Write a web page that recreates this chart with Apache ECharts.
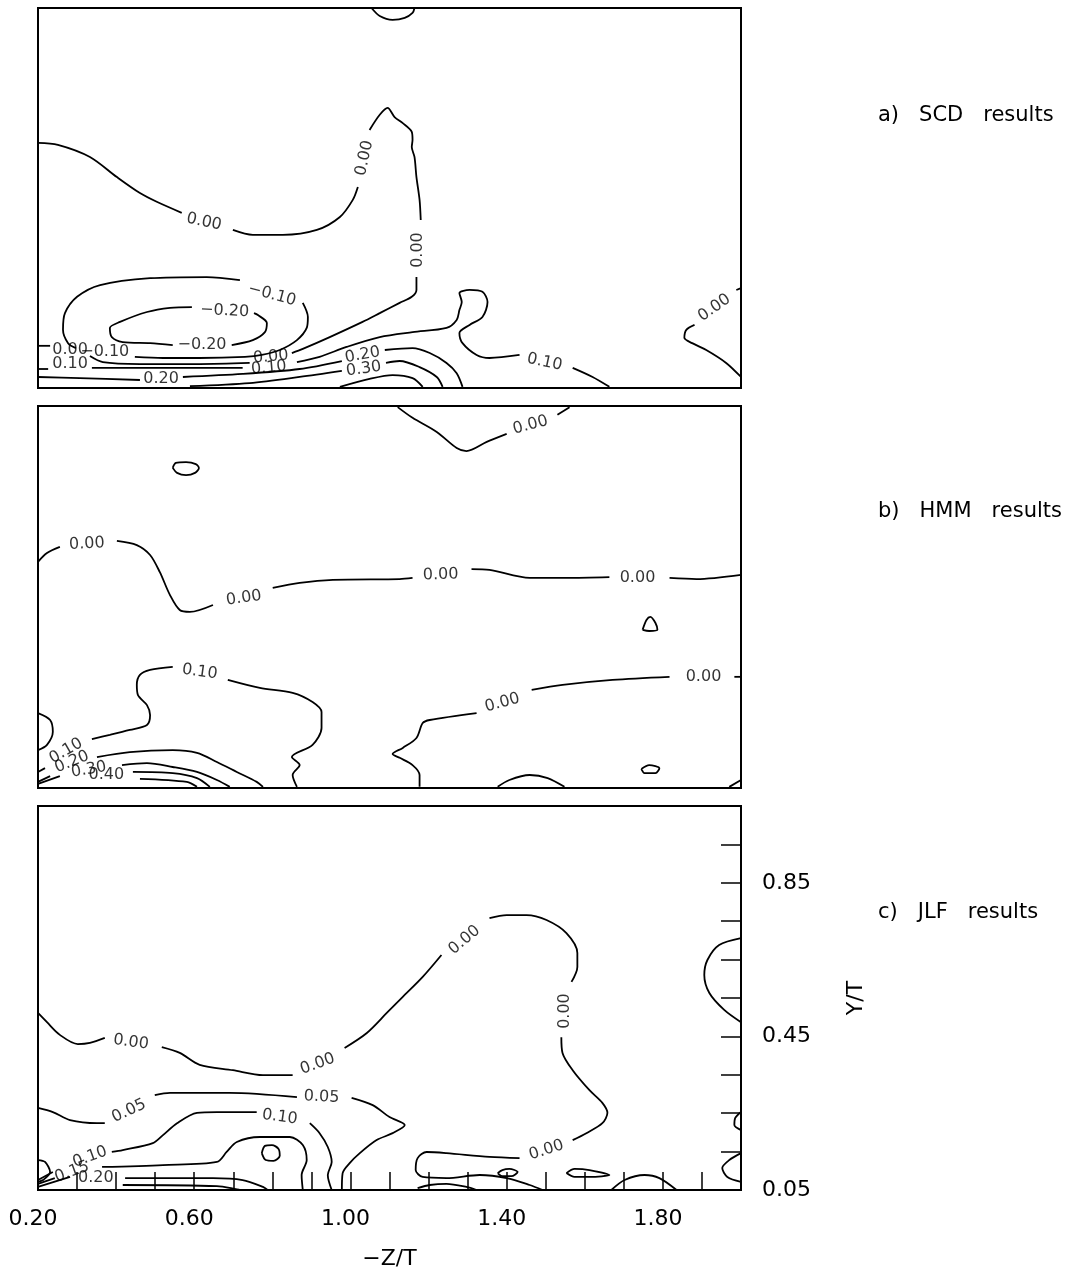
<!DOCTYPE html>
<html>
<head>
<meta charset="utf-8">
<title>Contours</title>
<script src="https://cdn.jsdelivr.net/npm/echarts@6/dist/echarts.min.js"></script>
<style>
  html, body { margin: 0; padding: 0; background: #fff; }
  #main { width: 1080px; height: 1273px; }
</style>
</head>
<body>
<div id="main"></div>
<script type="text/javascript">
// axis ranges (-Z/T across, Y/T up), same for the three panels
var xRange = [0.2, 2.0];
var yRange = [0.05, 1.05];
var xTickLabels = [0.20, 0.60, 1.00, 1.40, 1.80];
var xTicks = [0.3, 0.4, 0.5, 0.6, 0.7, 0.8, 0.9, 1.0, 1.1, 1.2, 1.3, 1.4, 1.5, 1.6, 1.7, 1.8, 1.9];
var yTickLabels = [0.05, 0.45, 0.85];
var yTicks = [0.15, 0.25, 0.35, 0.45, 0.55, 0.65, 0.75, 0.85, 0.95];
var panelTitles = ['a)   SCD   results', 'b)   HMM   results', 'c)   JLF   results'];

// a) SCD : contour lines, each broken where its label sits
var scdLines = [
  [[0.200,0.695],[0.251,0.690],[0.333,0.658],[0.402,0.605],[0.461,0.563],[0.504,0.540],[0.568,0.511]],
  [[0.699,0.466],[0.750,0.453],[0.827,0.453],[0.914,0.466],[0.973,0.500],[1.006,0.545],[1.019,0.579]],
  [[1.049,0.729],[1.075,0.769],[1.095,0.787],[1.113,0.763],[1.134,0.747],[1.157,0.724],[1.159,0.703],[1.157,0.684],[1.164,0.658],[1.169,0.605],[1.177,0.545],[1.180,0.492]],
  [[1.169,0.342],[1.169,0.308],[1.157,0.290],[1.126,0.274],[1.075,0.247],[1.031,0.224],[0.947,0.184],[0.878,0.153],[0.850,0.142]],
  [[0.742,0.116],[0.614,0.113],[0.461,0.113],[0.366,0.118],[0.333,0.134]],
  [[0.231,0.161],[0.200,0.161]],
  // -0.10 loop
  [[0.878,0.274],[0.891,0.237],[0.888,0.208],[0.863,0.176],[0.819,0.150],[0.773,0.137],[0.730,0.132],[0.614,0.129],[0.520,0.129],[0.448,0.132]],
  [[0.297,0.155],[0.277,0.168],[0.264,0.203],[0.269,0.247],[0.300,0.290],[0.359,0.321],[0.487,0.339],[0.632,0.342],[0.717,0.334]],
  // -0.20 loop
  [[0.594,0.263],[0.538,0.261],[0.479,0.250],[0.410,0.224],[0.384,0.208],[0.389,0.184],[0.417,0.171],[0.487,0.168],[0.545,0.163]],
  [[0.696,0.163],[0.750,0.176],[0.781,0.197],[0.786,0.221],[0.763,0.242],[0.753,0.247]],
  // 0.10
  [[0.200,0.100],[0.226,0.100]],
  [[0.338,0.103],[0.461,0.103],[0.724,0.103]],
  [[0.863,0.118],[0.921,0.132],[0.990,0.158],[1.075,0.184],[1.159,0.197],[1.246,0.208],[1.272,0.229],[1.279,0.255],[1.285,0.276],[1.279,0.300],[1.305,0.308],[1.338,0.303],[1.351,0.276],[1.338,0.237],[1.305,0.216],[1.279,0.195],[1.287,0.168],[1.323,0.137],[1.356,0.129],[1.433,0.137]],
  [[1.569,0.103],[1.620,0.079],[1.663,0.053]],
  // 0.20
  [[0.200,0.079],[0.307,0.076],[0.461,0.071]],
  [[0.571,0.079],[0.724,0.087],[0.870,0.100],[0.978,0.121]],
  [[1.088,0.150],[1.159,0.155],[1.203,0.142],[1.246,0.116],[1.272,0.089],[1.287,0.053]],
  // 0.30, 0.40
  [[0.589,0.055],[0.742,0.063],[0.870,0.079],[0.978,0.095]],
  [[1.091,0.116],[1.126,0.121],[1.177,0.105],[1.221,0.079],[1.236,0.053]],
  [[0.973,0.053],[1.049,0.074],[1.108,0.084],[1.159,0.076],[1.185,0.053]],
  // top arc and right corner
  [[1.054,1.050],[1.075,1.029],[1.108,1.019],[1.139,1.024],[1.159,1.037],[1.164,1.050]],
  [[2.000,0.079],[1.962,0.116],[1.911,0.150],[1.875,0.168],[1.855,0.182],[1.860,0.203],[1.881,0.216]],
  [[1.988,0.308],[2.000,0.313]]
];
var scdLabels = [
  [0.625,0.487,'0.00',-12], [1.036,0.655,'0.00',78], [1.172,0.413,'0.00',90],
  [0.796,0.132,'0.00',5], [0.282,0.150,'0.00',0], [0.282,0.113,'0.10',0],
  [0.371,0.145,'−0.10',0], [0.799,0.295,'−0.10',-15],
  [0.620,0.163,'−0.20',0], [0.678,0.253,'−0.20',-3],
  [0.791,0.103,'0.10',5], [1.497,0.118,'0.10',-12],
  [0.515,0.074,'0.20',0], [1.031,0.137,'0.20',10], [1.034,0.100,'0.30',8],
  [1.932,0.261,'0.00',35]
];

// b) HMM
var hmmLines = [
  [[0.545,0.888],[0.553,0.901],[0.579,0.903],[0.604,0.898],[0.612,0.888],[0.602,0.875],[0.579,0.869],[0.556,0.875],[0.545,0.888]],
  [[0.200,0.642],[0.223,0.665],[0.256,0.681]],
  [[0.402,0.697],[0.453,0.686],[0.487,0.660],[0.512,0.615],[0.538,0.555],[0.563,0.516],[0.589,0.511],[0.648,0.529]],
  [[0.801,0.574],[0.870,0.587],[0.955,0.595],[1.126,0.597],[1.159,0.600]],
  [[1.310,0.623],[1.356,0.621],[1.459,0.600],[1.553,0.600],[1.663,0.602]],
  [[1.817,0.600],[1.886,0.597],[2.000,0.608]],
  // 0.10
  [[0.545,0.367],[0.487,0.359],[0.461,0.346],[0.453,0.320],[0.456,0.293],[0.479,0.267],[0.487,0.241],[0.479,0.215],[0.435,0.202],[0.384,0.189],[0.338,0.178]],
  [[0.218,0.102],[0.200,0.092]],
  [[0.686,0.333],[0.768,0.312],[0.852,0.299],[0.903,0.275],[0.926,0.249],[0.926,0.207],[0.903,0.163],[0.850,0.131],[0.870,0.110],[0.852,0.084],[0.863,0.053]],
  [[0.200,0.246],[0.231,0.228],[0.238,0.197],[0.223,0.163],[0.200,0.149]],
  // 0.20 .. 0.50 near the corner
  [[0.200,0.066],[0.231,0.081]],
  [[0.351,0.131],[0.435,0.144],[0.545,0.149],[0.607,0.142],[0.658,0.118],[0.709,0.092],[0.760,0.066],[0.776,0.053]],
  [[0.415,0.110],[0.479,0.115],[0.545,0.105],[0.607,0.092],[0.658,0.071],[0.691,0.053]],
  [[0.443,0.092],[0.545,0.089],[0.607,0.076],[0.640,0.053]],
  [[0.461,0.074],[0.581,0.066],[0.607,0.053]],
  [[0.200,0.061],[0.256,0.081]],
  // lower 0.00
  [[1.323,0.246],[1.203,0.228],[1.185,0.220],[1.169,0.181],[1.134,0.155],[1.108,0.139],[1.126,0.129],[1.159,0.110],[1.177,0.084],[1.177,0.053]],
  [[1.464,0.307],[1.543,0.320],[1.671,0.333],[1.817,0.341]],
  [[1.983,0.341],[2.000,0.341]],
  [[1.748,0.464],[1.758,0.490],[1.768,0.498],[1.781,0.482],[1.786,0.464],[1.765,0.461],[1.748,0.464]],
  [[1.745,0.100],[1.765,0.110],[1.791,0.102],[1.781,0.089],[1.753,0.089],[1.745,0.100]],
  [[1.377,0.053],[1.407,0.071],[1.459,0.084],[1.505,0.076],[1.548,0.053]],
  [[1.970,0.053],[2.000,0.071]],
  // top
  [[1.121,1.047],[1.159,1.019],[1.221,0.982],[1.272,0.940],[1.297,0.932],[1.349,0.956],[1.400,0.977]],
  [[1.530,1.027],[1.561,1.047]]
];
var hmmLabels = [
  [0.325,0.689,'0.00',3], [0.727,0.547,'0.00',8], [1.231,0.608,'0.00',2], [1.735,0.600,'0.00',0],
  [0.614,0.354,'0.10',-8], [0.272,0.147,'0.10',30], [0.287,0.118,'0.20',22],
  [0.330,0.098,'0.30',10], [0.375,0.084,'0.40',0],
  [1.389,0.273,'0.00',15], [1.904,0.341,'0.00',0], [1.461,1.000,'0.00',15]
];

// c) JLF
var jlfLines = [
  [[0.200,0.511],[0.223,0.487],[0.256,0.454],[0.302,0.430],[0.333,0.433],[0.371,0.446]],
  [[0.517,0.422],[0.563,0.407],[0.614,0.376],[0.699,0.362],[0.776,0.349],[0.852,0.349]],
  [[0.985,0.420],[1.042,0.459],[1.093,0.511],[1.134,0.553],[1.185,0.605],[1.233,0.662]],
  [[1.356,0.758],[1.400,0.766],[1.451,0.766],[1.502,0.753],[1.553,0.719],[1.581,0.667],[1.581,0.631],[1.566,0.592]],
  [[1.540,0.448],[1.543,0.407],[1.569,0.362],[1.612,0.310],[1.645,0.277],[1.658,0.251],[1.645,0.224],[1.604,0.198],[1.569,0.180]],
  [[1.433,0.133],[1.356,0.136],[1.246,0.146],[1.195,0.149],[1.172,0.133],[1.167,0.102],[1.185,0.084],[1.246,0.081],[1.331,0.089],[1.400,0.081],[1.459,0.063],[1.492,0.050]],
  // 0.05
  [[0.200,0.264],[0.238,0.253],[0.282,0.232],[0.351,0.224],[0.371,0.224]],
  [[0.499,0.297],[0.538,0.303],[0.691,0.303],[0.863,0.292]],
  [[1.003,0.290],[1.057,0.271],[1.100,0.240],[1.139,0.219],[1.108,0.198],[1.067,0.180],[1.024,0.146],[0.998,0.120],[0.980,0.094],[0.978,0.050]],
  // 0.10
  [[0.760,0.253],[0.658,0.253],[0.607,0.251],[0.556,0.224],[0.520,0.193],[0.494,0.172],[0.417,0.154],[0.389,0.149]],
  [[0.238,0.097],[0.200,0.076]],
  [[0.896,0.224],[0.921,0.198],[0.942,0.162],[0.952,0.123],[0.942,0.089],[0.952,0.050]],
  // 0.15, small loop, 0.20, 0.25
  [[0.364,0.110],[0.520,0.115],[0.658,0.123],[0.683,0.149],[0.709,0.175],[0.768,0.188],[0.845,0.188],[0.878,0.167],[0.888,0.128],[0.875,0.089],[0.878,0.050]],
  [[0.773,0.146],[0.781,0.165],[0.799,0.167],[0.816,0.157],[0.819,0.139],[0.803,0.126],[0.783,0.128],[0.773,0.146]],
  [[0.423,0.081],[0.648,0.081],[0.724,0.076],[0.776,0.058],[0.788,0.050]],
  [[0.417,0.063],[0.658,0.060],[0.717,0.050]],
  [[0.200,0.058],[0.282,0.084]],
  [[0.200,0.066],[0.243,0.081]],
  [[0.200,0.128],[0.218,0.123],[0.231,0.097],[0.213,0.076],[0.200,0.071]],
  // small closed contours along the floor
  [[1.172,0.055],[1.203,0.063],[1.246,0.066],[1.297,0.058],[1.323,0.050]],
  [[1.377,0.094],[1.389,0.102],[1.407,0.105],[1.428,0.097],[1.412,0.086],[1.389,0.086],[1.377,0.094]],
  [[1.553,0.094],[1.574,0.105],[1.612,0.102],[1.663,0.089],[1.612,0.084],[1.574,0.084],[1.553,0.094]],
  [[1.668,0.050],[1.702,0.076],[1.753,0.089],[1.791,0.081],[1.835,0.050]],
  // right wall
  [[2.000,0.706],[1.944,0.688],[1.914,0.649],[1.906,0.610],[1.919,0.563],[1.957,0.519],[2.000,0.487]],
  [[2.000,0.253],[1.985,0.237],[1.983,0.219],[2.000,0.206]],
  [[2.000,0.146],[1.970,0.128],[1.952,0.107],[1.965,0.084],[2.000,0.071]]
];
var jlfLabels = [
  [0.438,0.435,'0.00',-8], [0.916,0.378,'0.00',20], [1.292,0.701,'0.00',40],
  [1.548,0.516,'0.00',90], [1.502,0.154,'0.00',18],
  [0.433,0.256,'0.05',25], [0.926,0.292,'0.05',-3],
  [0.819,0.240,'0.10',-8], [0.333,0.136,'0.10',20],
  [0.287,0.097,'0.15',20], [0.348,0.081,'0.20',0]
];

var font = 'DejaVu Sans';
var grids = [
  {left: 38, top: 8, width: 703, height: 380},
  {left: 38, top: 406, width: 703, height: 382},
  {left: 38, top: 806, width: 703, height: 384}
];

function contourSeries(lines, labels, idx) {
  var out = [];
  lines.forEach(function (pts) {
    out.push({
      type: 'line', xAxisIndex: idx, yAxisIndex: idx, data: pts,
      symbol: 'none', smooth: 0.3, silent: true,
      lineStyle: {color: '#000', width: 1.8}
    });
  });
  out.push({
    type: 'scatter', xAxisIndex: idx, yAxisIndex: idx, symbolSize: 1, silent: true,
    itemStyle: {color: 'rgba(0,0,0,0)'},
    label: {show: true, position: 'inside', color: '#000', fontSize: 16, fontFamily: font},
    data: labels.map(function (l) {
      return {value: [l[0], l[1]], label: {formatter: l[2], rotate: l[3]}};
    })
  });
  return out;
}

var xAxes = [], yAxes = [];
for (var i = 0; i < 3; i++) {
  var last = (i === 2);
  xAxes.push({
    type: 'value', gridIndex: i, min: xRange[0], max: xRange[1],
    splitLine: {show: false}, axisLine: {show: false},
    axisTick: {show: last, inside: true, length: 18, customValues: xTicks, lineStyle: {color: '#000', width: 1.5}},
    axisLabel: {show: last, customValues: xTickLabels, margin: 18, color: '#000', fontSize: 22, fontFamily: font,
      padding: [0, 10, 0, 0],
      formatter: function (v) { return v.toFixed(2); }},
    name: last ? '−Z/T' : '', nameLocation: 'middle', nameGap: 58,
    nameTextStyle: {color: '#000', fontSize: 22, fontFamily: font}
  });
  yAxes.push({
    type: 'value', gridIndex: i, min: yRange[0], max: yRange[1], position: 'right',
    splitLine: {show: false}, axisLine: {show: false},
    axisTick: {show: last, inside: true, length: 20, customValues: yTicks, lineStyle: {color: '#000', width: 1.5}},
    axisLabel: {show: last, customValues: yTickLabels, margin: 21, color: '#000', fontSize: 22, fontFamily: font,
      formatter: function (v) { return v.toFixed(2); }},
    name: last ? 'Y/T' : '', nameLocation: 'middle', nameGap: 104, nameRotate: 90,
    nameTextStyle: {color: '#000', fontSize: 22, fontFamily: font}
  });
}

var series = [].concat(
  contourSeries(scdLines, scdLabels, 0),
  contourSeries(hmmLines, hmmLabels, 1),
  contourSeries(jlfLines, jlfLabels, 2)
);

var titleTops = [105, 501, 902];
var myChart = echarts.init(document.getElementById('main'), null, {renderer: 'canvas'});
var option = {
  animation: false,
  backgroundColor: '#fff',
  title: panelTitles.map(function (t, k) {
    return {text: t, left: 878, top: titleTops[k], padding: 0,
      textStyle: {color: '#000', fontSize: 21, fontWeight: 'normal', fontFamily: font}};
  }),
  grid: grids.map(function (g) {
    return Object.assign({show: true, borderColor: '#000', borderWidth: 2, backgroundColor: 'transparent'}, g);
  }),
  xAxis: xAxes,
  yAxis: yAxes,
  series: series
};
myChart.setOption(option);
</script>
</body>
</html>
